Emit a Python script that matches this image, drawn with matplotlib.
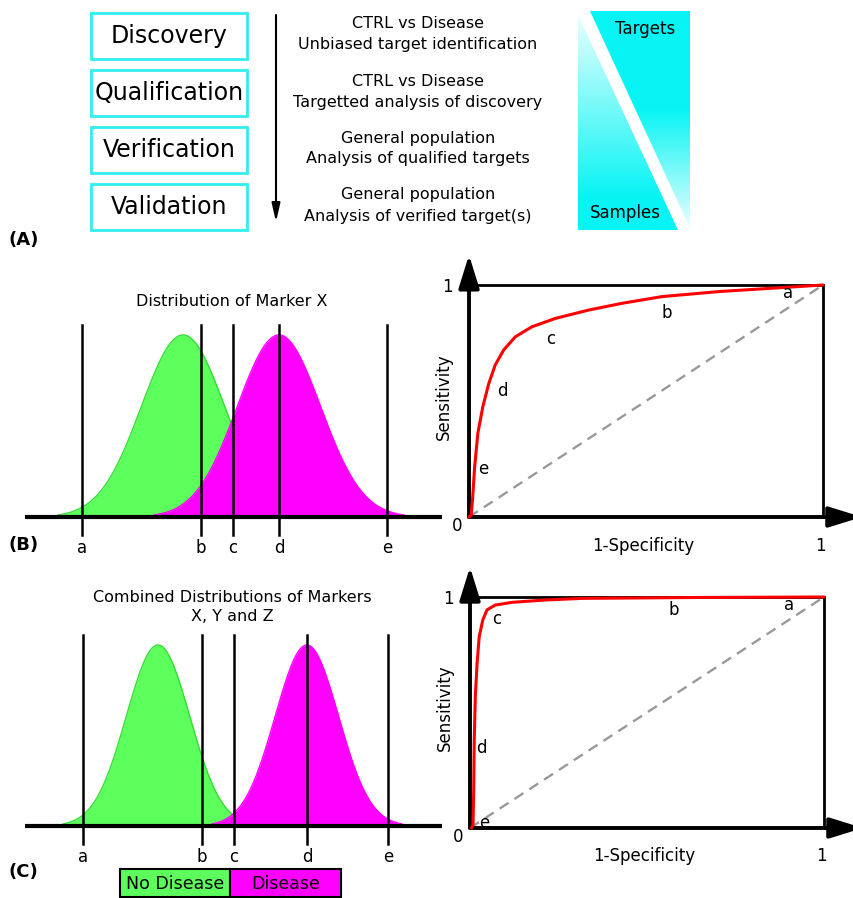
import matplotlib
matplotlib.use('Agg')
import matplotlib.pyplot as plt
import numpy as np
from matplotlib.patches import Rectangle, Polygon, FancyArrowPatch

plt.rcParams['font.family'] = ['DejaVu Sans']

# ---- data ----
stages = ['Discovery', 'Qualification', 'Verification', 'Validation']
stage_notes = [
    ('CTRL vs Disease', 'Unbiased target identification'),
    ('CTRL vs Disease', 'Targetted analysis of discovery'),
    ('General population', 'Analysis of qualified targets'),
    ('General population', 'Analysis of verified target(s)'),
]

cut_labels = ['a', 'b', 'c', 'd', 'e']
# cutoffs on the marker scale (arbitrary units 0-10)
cutoffs_B = [1.37, 4.22, 4.99, 6.09, 8.68]
cutoffs_C = [1.39, 4.24, 5.01, 6.76, 8.70]

# (mean, sd) of each population
healthy_B = (3.79, 1.0)
disease_B = (6.09, 1.0)
healthy_C = (3.19, 0.76)
disease_C = (6.76, 0.76)

roc_B_fpr = [0, 0.0065, 0.0105, 0.016, 0.025, 0.039, 0.056, 0.074, 0.098, 0.131,
             0.178, 0.244, 0.338, 0.432, 0.545, 0.709, 0.897, 1.0]
roc_B_tpr = [0, 0.009, 0.0875, 0.217, 0.361, 0.475, 0.576, 0.655, 0.72, 0.777,
             0.82, 0.856, 0.892, 0.921, 0.95, 0.972, 0.99, 1.0]

roc_C_fpr = [0.004, 0.0085, 0.0105, 0.012, 0.015, 0.02, 0.026, 0.036, 0.048, 0.071,
             0.119, 0.213, 0.316, 0.65, 1.0]
roc_C_tpr = [0, 0.013, 0.165, 0.381, 0.568, 0.713, 0.828, 0.90, 0.944, 0.965,
             0.977, 0.987, 0.994, 0.998, 1.0]

legend_labels = ['No Disease', 'Disease']

GREEN = '#5dff5d'
GREEN_EDGE = '#33dd33'
MAGENTA = '#ff00ff'
CYAN = '#08f4f4'

W, H = 854, 898
fig = plt.figure(figsize=(W / 100, H / 100), dpi=100)


def px_axes(x0, y0, x1, y1):
    ax = fig.add_axes([x0 / W, 1 - y1 / H, (x1 - x0) / W, (y1 - y0) / H])
    ax.set_axis_off()
    return ax


ax0 = px_axes(0, 0, W, H)

# ---- panel A ----
for i, name in enumerate(stages):
    y = 13 + i * 57
    ax0.add_patch(Rectangle((91, y), 156, 46, fill=False, ec='#33eeee', lw=2))
    ax0.text(169, y + 23, name, fontsize=17, ha='center', va='center')
    l1, l2 = stage_notes[i]
    ax0.text(418, y + 11, l1, fontsize=11.5, ha='center', va='center')
    ax0.text(418, y + 32, l2, fontsize=11.5, ha='center', va='center')

ax0.annotate('', xy=(276, 222), xytext=(276, 15),
             arrowprops=dict(arrowstyle='-|>,head_length=1.1,head_width=0.25',
                             color='black', lw=1.5, shrinkA=0, shrinkB=0))

cyan_rgb = np.array(matplotlib.colors.to_rgb(CYAN))
white = np.array([0.93, 1.0, 1.0])
t = np.linspace(0, 1, 200)[:, None]
# targets triangle: cyan at top fading to white at the bottom
k_up = np.clip((t - 0.45) / 0.55, 0, 1)
img_up = (cyan_rgb * (1 - k_up) + white * k_up)[:, None, :]
# samples triangle: pale at top, cyan at the bottom
k_lo = np.clip(1 - t / 0.85, 0, 1)
img_lo = (cyan_rgb * (1 - k_lo) + white * k_lo)[:, None, :]

im1 = ax0.imshow(img_up, extent=(578, 690, 230, 11), aspect='auto', zorder=1)
im1.set_clip_path(Polygon([(590, 11), (690, 11), (690, 228)], transform=ax0.transData))
im2 = ax0.imshow(img_lo, extent=(578, 690, 230, 11), aspect='auto', zorder=1)
im2.set_clip_path(Polygon([(578, 15), (578, 230), (678, 230)], transform=ax0.transData))
ax0.text(645, 29, 'Targets', fontsize=12, ha='center', va='center', zorder=3)
ax0.text(625, 213, 'Samples', fontsize=12, ha='center', va='center', zorder=3)

ax0.set_xlim(0, W)
ax0.set_ylim(H, 0)

for lbl, y in [('(A)', 240), ('(B)', 545), ('(C)', 872)]:
    ax0.text(8, y, lbl, fontsize=13, fontweight='bold', va='center')

ax0.text(232, 302, 'Distribution of Marker X', fontsize=11.5, ha='center', va='center')
ax0.text(232, 607, 'Combined Distributions of Markers\nX, Y and Z', fontsize=11.5,
         ha='center', va='center', linespacing=1.3)

# legend boxes
ax0.add_patch(Rectangle((120, 869), 110, 28, fc=GREEN, ec='black', lw=1.5))
ax0.add_patch(Rectangle((230, 869), 111, 28, fc=MAGENTA, ec='black', lw=1.5))
ax0.text(175, 884, legend_labels[0], fontsize=12.5, ha='center', va='center')
ax0.text(286, 884, legend_labels[1], fontsize=12.5, ha='center', va='center')


# ---- distributions ----
def draw_dist(ax, healthy, disease, cutoffs):
    z = 1
    for (mu, sd), fc, ec in [(healthy, GREEN, GREEN_EDGE), (disease, MAGENTA, MAGENTA)]:
        x = np.linspace(mu - 3 * sd, mu + 3 * sd, 400)
        y = np.exp(-0.5 * ((x - mu) / sd) ** 2)
        ax.fill_between(x, 0, y, color=fc, lw=0, zorder=z)
        ax.plot(x, y, color=ec, lw=1, zorder=z + 0.5)
        z += 1
    for lbl, c in zip(cut_labels, cutoffs):
        ax.plot([c, c], [-0.097, 1.055], color='black', lw=1.8, zorder=4)
        ax.text(c, -0.17, lbl, fontsize=12, ha='center', va='center')
    ax.plot([0, 10], [0, 0], color='black', lw=3, solid_capstyle='butt', zorder=5)
    ax.set_xlim(0, 10)


axB = px_axes(25, 300, 442, 560)
draw_dist(axB, healthy_B, disease_B, cutoffs_B)
axB.set_ylim(-0.236, 1.192)

axC = px_axes(25, 610, 442, 870)
draw_dist(axC, healthy_C, disease_C, cutoffs_C)
axC.set_ylim(-0.243, 1.193)


# ---- ROC curves ----
def draw_roc(ax, fpr, tpr, label_pos):
    ax.set_xlim(0, 1)
    ax.set_ylim(0, 1)
    ax.plot([0, 1], [0, 1], color='#999999', lw=1.7, dashes=(4.5, 3), clip_on=False,
            zorder=1)
    ax.plot([0, 1, 1], [1, 1, 0], color='black', lw=2, clip_on=False,
            solid_joinstyle='miter', zorder=2)
    for start, end in [((0, 0), (0, 1.13)), ((0, 0), (1.11, 0))]:
        ax.add_patch(FancyArrowPatch(start, end,
                                     arrowstyle='-|>,head_length=1.45,head_width=0.45',
                                     mutation_scale=14, lw=2.8, color='black',
                                     shrinkA=0, shrinkB=0, clip_on=False,
                                     transform=ax.transData, zorder=2))
    ax.plot(fpr, tpr, color='red', lw=2.2, clip_on=False, solid_capstyle='round',
            zorder=3)
    for lbl, (x, y) in zip(cut_labels, label_pos):
        ax.text(x, y, lbl, fontsize=12, ha='center', va='center', zorder=4)
    ax.text(-0.062, 0.99, '1', fontsize=12, ha='center', va='center')
    ax.text(-0.034, -0.04, '0', fontsize=12, ha='center', va='center')
    ax.text(0.993, -0.123, '1', fontsize=12, ha='center', va='center')
    ax.text(0.492, -0.123, '1-Specificity', fontsize=12, ha='center', va='center')
    ax.text(-0.07, 0.52, 'Sensitivity', fontsize=12, ha='center', va='center',
            rotation=90)


axRB = px_axes(469, 285, 823, 517)
draw_roc(axRB, roc_B_fpr, roc_B_tpr,
         [(0.9, 0.964), (0.56, 0.878), (0.23, 0.766), (0.093, 0.544), (0.039, 0.207)])

axRC = px_axes(470, 597, 824, 828)
draw_roc(axRC, roc_C_fpr, roc_C_tpr,
         [(0.9, 0.965), (0.575, 0.945), (0.076, 0.903), (0.032, 0.345), (0.039, 0.02)])

fig.savefig('out.png', dpi=100)
